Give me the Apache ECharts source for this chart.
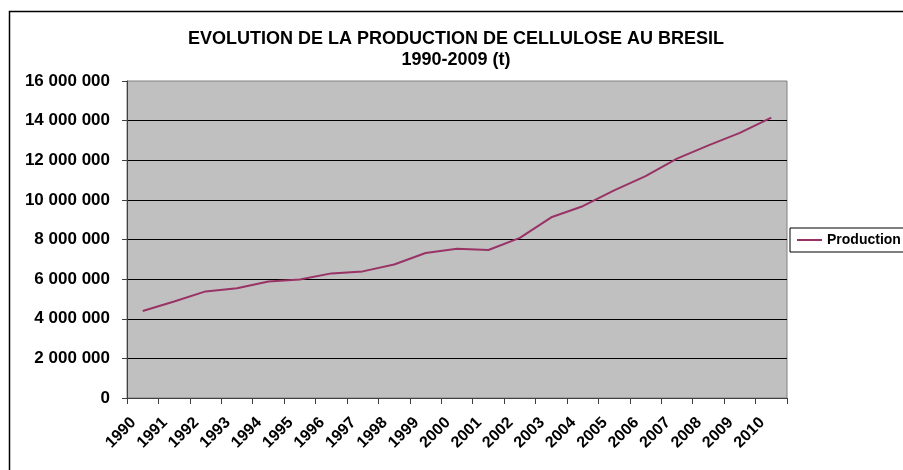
<!DOCTYPE html>
<html>
<head>
<meta charset="utf-8">
<script src="https://cdn.jsdelivr.net/npm/echarts@6/dist/echarts.min.js"></script>
<style>
  html, body { margin: 0; padding: 0; background: #fff; }
  #chart { width: 903px; height: 470px; }
</style>
</head>
<body>
<div id="chart"></div>
<script>
// annees (axe des categories)
const years = ["1990", "1991", "1992", "1993", "1994", "1995", "1996", "1997", "1998", "1999", "2000",
  "2001", "2002", "2003", "2004", "2005", "2006", "2007", "2008", "2009", "2010"]
// production de cellulose (t)
const production = [4390000, 4870000, 5380000, 5540000, 5880000, 5980000, 6290000, 6390000, 6740000, 7320000, 7530000,
  7470000, 8080000, 9120000, 9680000, 10480000, 11200000, 12080000, 12750000, 13380000, 14150000]
const yTicks = [0, 2000000, 4000000, 6000000, 8000000, 10000000, 12000000, 14000000, 16000000]

const fmt = (v) => String(v).replace(/\B(?=(\d{3})+(?!\d))/g, " ")

const chart = echarts.init(document.getElementById("chart"))
const font = "Liberation Sans, Arial, sans-serif"

chart.setOption({
  animation: false,
  textStyle: { fontFamily: font },
  title: {
    text: "EVOLUTION DE LA PRODUCTION DE CELLULOSE AU BRESIL\n1990-2009 (t)",
    left: 451,
    top: 24,
    textAlign: "center",
    textStyle: { fontSize: 18, fontWeight: "bold", color: "#000", lineHeight: 21, fontFamily: font },
  },
  legend: {
    left: 790,
    top: 228,
    orient: "vertical",
    data: ["Production"],
    icon: "rect",
    itemWidth: 25,
    itemHeight: 2,
    itemGap: 4,
    padding: [5, 20, 5, 7],
    borderColor: "#000",
    borderWidth: 1,
    borderRadius: 0,
    textStyle: { fontSize: 14, fontWeight: "bold", color: "#000", fontFamily: font },
  },
  grid: {
    left: 127,
    right: 116,
    top: 81,
    bottom: 72,
    show: true,
    backgroundColor: "#c0c0c0",
    borderColor: "#808080",
    borderWidth: 1,
  },
  xAxis: {
    type: "category",
    data: years,
    boundaryGap: true,
    axisLine: { lineStyle: { color: "#404040", width: 1 } },
    axisTick: { show: true, length: 6, lineStyle: { color: "#404040" } },
    axisLabel: {
      rotate: 45,
      interval: 0,
      margin: 13,
      padding: [0, 13, 0, 0],
      fontSize: 16,
      fontWeight: "bold",
      color: "#000",
      fontFamily: font,
    },
  },
  yAxis: {
    type: "value",
    min: 0,
    max: 16000000,
    interval: 2000000,
    axisLine: { show: true, lineStyle: { color: "#404040", width: 1 } },
    axisTick: { show: true, length: 5, lineStyle: { color: "#404040" } },
    axisLabel: {
      margin: 17,
      fontSize: 17,
      fontWeight: "bold",
      color: "#000",
      fontFamily: font,
      formatter: (v) => (yTicks.includes(v) ? fmt(v) : ""),
    },
    splitLine: { show: true, showMaxLine: false, lineStyle: { color: "#000", width: 1 } },
  },
  graphic: [
    {
      type: "rect",
      shape: { x: 9.5, y: 11.5, width: 910, height: 480 },
      style: { fill: "none", stroke: "#000", lineWidth: 1.5 },
      silent: true,
      z: -1,
    },
  ],
  series: [
    {
      name: "Production",
      type: "line",
      data: production,
      showSymbol: false,
      symbol: "none",
      lineStyle: { color: "#993366", width: 2 },
      itemStyle: { color: "#993366" },
    },
  ],
})

window.addEventListener("resize", () => {
  chart.resize()
})
</script>
</body>
</html>
